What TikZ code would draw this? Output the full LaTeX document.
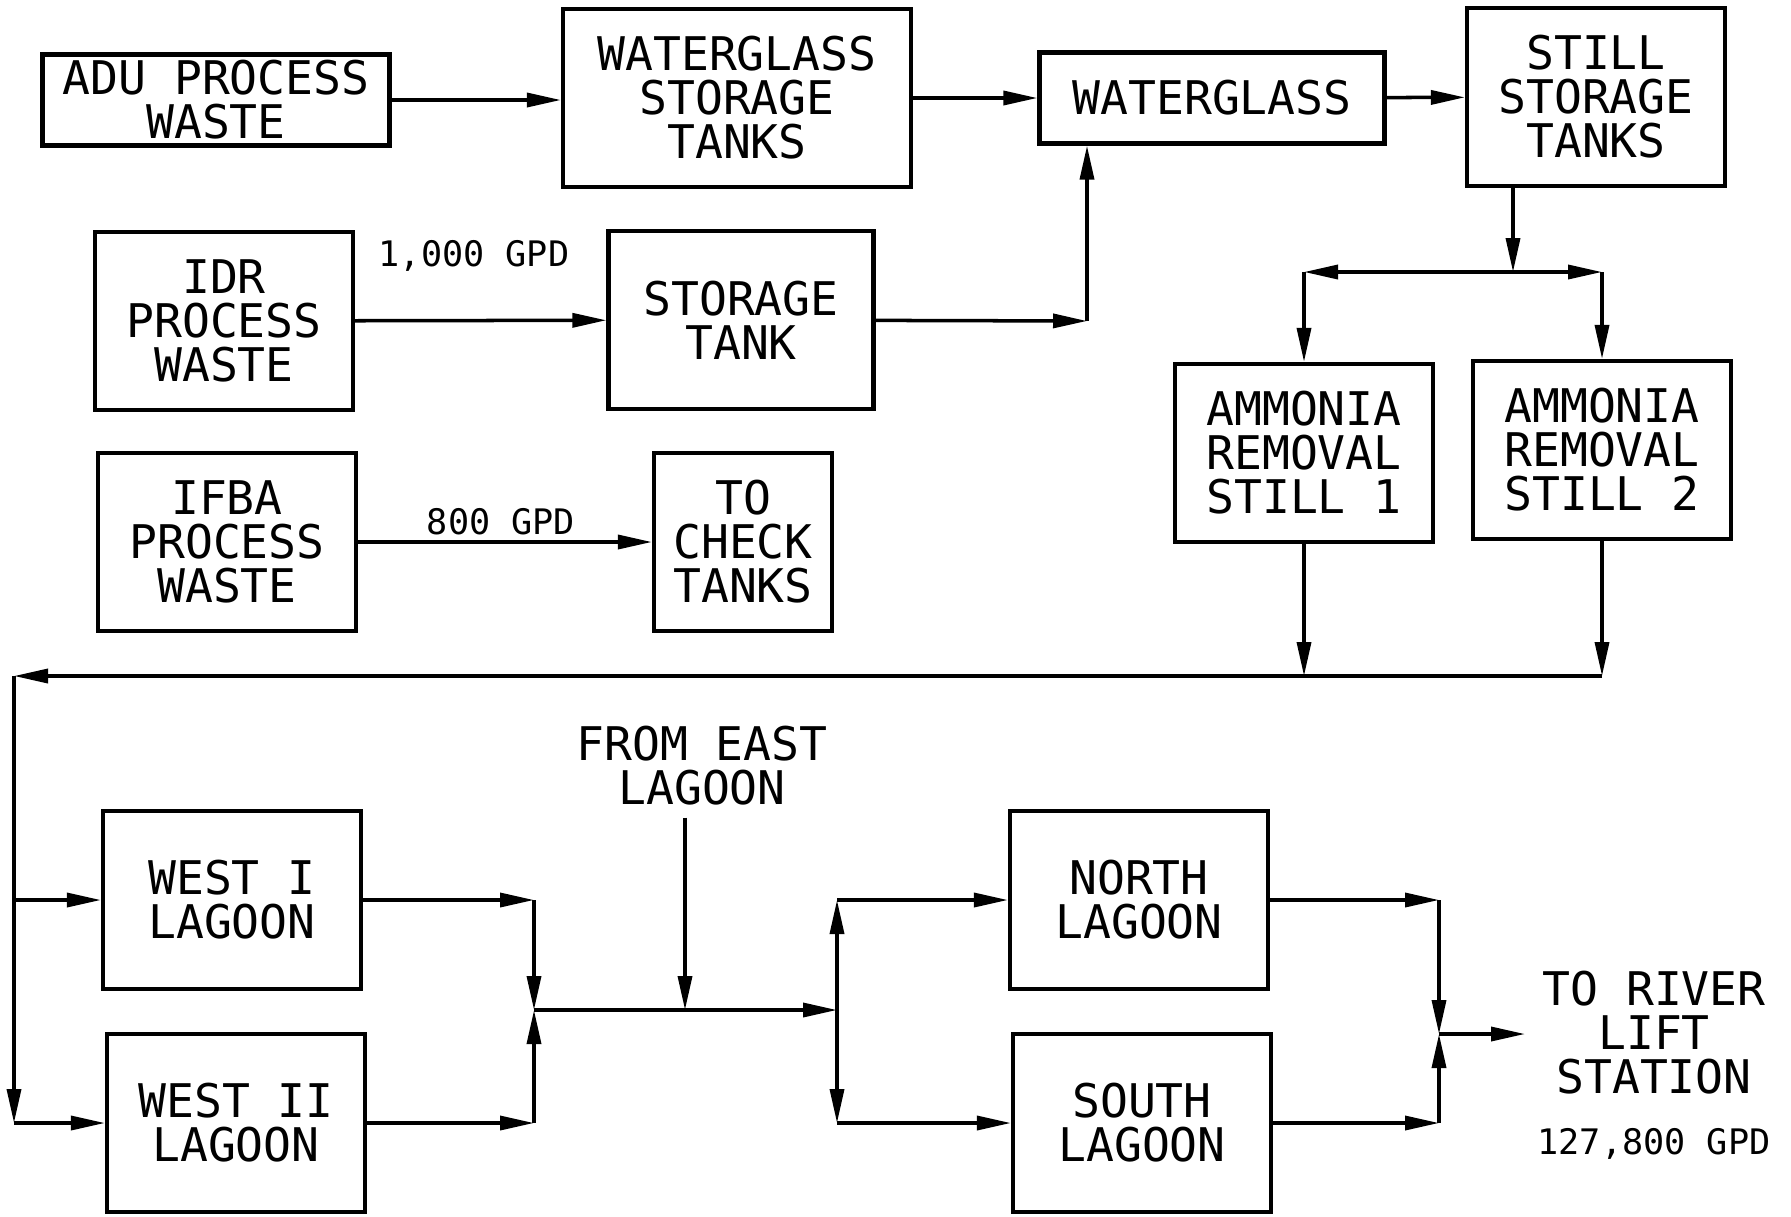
\documentclass[tikz,border=0pt]{standalone}
\usepackage{fontspec}
\newfontfamily\cadfont{DejaVu Sans Mono}
\usetikzlibrary{arrows.meta,calc}

\tikzset{
  box/.style={draw, line width=1.2pt, inner sep=0pt, align=center,
    minimum width=25.8mm, minimum height=17.8mm,
    font=\cadfont\fontsize{13.2}{12.5}\selectfont},
  txt/.style={inner sep=0pt, align=center,
    font=\cadfont\fontsize{13.2}{12.5}\selectfont},
  lbl/.style={inner sep=0pt, font=\cadfont\fontsize{10}{12}\selectfont},
  flow/.style={line width=1pt, -{Triangle[length=3.4mm,width=1.4mm]}},
}

\begin{document}
\begin{tikzpicture}[x=0.1mm, y=-0.1mm]
  \useasboundingbox (0,0) rectangle (1791,1216);
  % Process waste sources and tanks
  \node[box, minimum width=34.7mm, minimum height=9.1mm] (adu) at (216,100) {ADU PROCESS\\WASTE};
  \node[box, minimum width=34.8mm] (wgst) at (737,98) {WATERGLASS\\STORAGE\\TANKS};
  \node[box, minimum width=34.5mm, minimum height=9.1mm] (wg) at (1212,98) {WATERGLASS};
  \node[box] (sst) at (1596,97) {STILL\\STORAGE\\TANKS};
  \node[box] (idr) at (224,321) {IDR\\PROCESS\\WASTE};
  \node[box, minimum width=26.5mm] (st) at (741,320) {STORAGE\\TANK};
  \node[box] (ifba) at (227,542) {IFBA\\PROCESS\\WASTE};
  \node[box, minimum width=17.8mm] (tct) at (743,542) {TO\\CHECK\\TANKS};
  % Stills
  \node[box] (am1) at (1304,453) {AMMONIA\\REMOVAL\\STILL 1};
  \node[box] (am2) at (1602,450) {AMMONIA\\REMOVAL\\STILL 2};
  % Lagoons
  \node[box] (w1) at (232,900) {WEST I\\LAGOON};
  \node[box] (w2) at (236,1123) {WEST II\\LAGOON};
  \node[box] (nl) at (1139,900) {NORTH\\LAGOON};
  \node[box] (sl) at (1142,1123) {SOUTH\\LAGOON};
  % Free texts
  \node[txt, outer sep=1.2mm] (east) at (702,766) {FROM EAST\\LAGOON};
  \node[txt] (river) at (1654,1033) {TO RIVER\\LIFT\\STATION};
  \node[lbl] (gpdidr) at (474,256) {1,000 GPD};
  \node[lbl] (gpdifba) at (501,522) {800 GPD};
  \node[lbl] (gpdout) at (1654,1144) {127,800 GPD};
  % Junction points
  \coordinate (split) at (1513,272);
  \coordinate (wgin) at (1087,321);
  \coordinate (ret) at (14,676);
  \coordinate (wtop) at (14,900);
  \coordinate (wbot) at (14,1123);
  \coordinate (wj) at (534,1010);
  \coordinate (eastin) at (685,1010);
  \coordinate (ej) at (837,1010);
  \coordinate (rj) at (1439,1034);
  \coordinate (out) at (1525,1034);
  % Top row flow
  \draw[flow] (adu.east) -- (adu.east -| wgst.west);
  \draw[flow] (wgst.east) -- (wgst.east -| wg.west);
  \draw[flow] (wg) -- (sst);
  \draw[flow] (idr) -- (st);
  \draw[flow] (st) -- (wgin);
  \draw[flow] (wgin) -- (wgin |- wg.south);
  \draw[flow] (ifba) -- (tct);
  % To the stills
  \draw[flow] (sst.south -| split) -- (split);
  \draw[flow] (split) -- (split -| am1);
  \draw[flow] (split -| am1) -- (am1);
  \draw[flow] (split) -- (split -| am2);
  \draw[flow] (split -| am2) -- (am2);
  % Return to the west lagoons
  \draw[flow] (am1) -- (am1 |- ret);
  \draw[flow] (am2) -- (am2 |- ret);
  \draw[flow] (am2 |- ret) -- (ret);
  \draw[flow] (ret) -- (wbot);
  \draw[flow] (wtop) -- (w1);
  \draw[flow] (wbot) -- (w2);
  % West lagoons to north and south
  \draw[flow] (w1) -- (w1 -| wj);
  \draw[flow] (w1 -| wj) -- (wj);
  \draw[flow] (w2) -- (w2 -| wj);
  \draw[flow] (w2 -| wj) -- (wj);
  \draw[flow] (east.south -| eastin) -- (eastin);
  \draw[flow] (wj) -- (ej);
  \draw[flow] (ej) -- (ej |- nl);
  \draw[flow] (ej) -- (ej |- sl);
  \draw[flow] (ej |- nl) -- (nl);
  \draw[flow] (ej |- sl) -- (sl);
  % Out to the river
  \draw[flow] (nl) -- (nl -| rj);
  \draw[flow] (nl -| rj) -- (rj);
  \draw[flow] (sl) -- (sl -| rj);
  \draw[flow] (sl -| rj) -- (rj);
  \draw[flow] (rj) -- (out);
\end{tikzpicture}
\end{document}
